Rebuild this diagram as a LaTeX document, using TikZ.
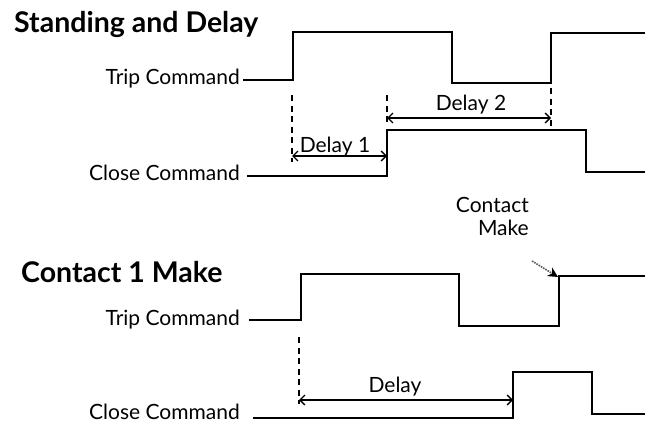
\documentclass[tikz,border=0pt]{standalone}
\usepackage{fontspec}
\setmainfont{Lato}
\usetikzlibrary{arrows.meta}

\begin{document}
\begin{tikzpicture}[
    x=1pt, y=-1pt,
    sig/.style={line width=1.6pt},
    guide/.style={line width=1.3pt, dash pattern=on 6pt off 4.5pt},
    span/.style={{Straight Barb[length=5pt, width=10pt]}-{Straight Barb[length=5pt, width=10pt]}, line width=1.3pt},
    lbl/.style={font=\fontsize{21}{23}\selectfont, inner sep=0pt},
    ttl/.style={font=\fontsize{28.5}{32}\selectfont\bfseries, anchor=base west, inner sep=0pt},
]
\useasboundingbox (0,0) rectangle (645,423);

% ---- Standing and Delay ----
\node[ttl] (sdTitle) at (14,32) {Standing and Delay};

\node[lbl, anchor=base east] (sdTrip) at (240,84) {Trip Command};
\node[lbl, anchor=base east] (sdClose) at (240,180) {Close Command};

% trip waveform
\coordinate (sdT0) at (243,80);
\coordinate (sdT1) at (293,80);
\coordinate (sdT2) at (452,32);
\coordinate (sdT3) at (551,83);
\draw[sig] (sdT0) -- (sdT1) |- (sdT2) |- (sdT3) |- (645,33);

% close waveform
\coordinate (sdC0) at (247,176);
\coordinate (sdC1) at (387,176);
\coordinate (sdC2) at (586,130);
\draw[sig] (sdC0) -- (sdC1) |- (sdC2) |- (645,172);

% guides
\draw[guide] (292,95) -- (292,162);
\draw[guide] (387,95) -- (387,126);
\draw[guide] (551,88) -- (551,126);

% delays
\coordinate (d1a) at (292,156);
\coordinate (d1b) at (387,156);
\draw[span] (d1a) -- (d1b);
\node[lbl, anchor=base] (d1Lbl) at (335,152) {Delay 1};

\coordinate (d2a) at (387,118);
\coordinate (d2b) at (551,118);
\draw[span] (d2a) -- (d2b);
\node[lbl, anchor=base] (d2Lbl) at (471,110) {Delay 2};

% ---- Contact 1 Make ----
\node[ttl] (cmTitle) at (21,282) {Contact 1 Make};

\node[lbl, anchor=base east] (cmTrip) at (240,325) {Trip Command};
\node[lbl, anchor=base east] (cmClose) at (240,419) {Close Command};

% trip waveform
\coordinate (cmT0) at (249,320);
\coordinate (cmT1) at (301,320);
\coordinate (cmT2) at (459,274);
\coordinate (cmT3) at (559,326);
\draw[sig] (cmT0) -- (cmT1) |- (cmT2) |- (cmT3) |- (645,276);

% close waveform
\coordinate (cmC0) at (253,418);
\coordinate (cmC1) at (513,418);
\coordinate (cmC2) at (592,372);
\draw[sig] (cmC0) -- (cmC1) |- (cmC2) |- (645,414);

\draw[guide] (299,337) -- (299,404);

\coordinate (dA) at (299,400);
\coordinate (dB) at (513,400);
\draw[span] (dA) -- (dB);
\node[lbl, anchor=base] (dLbl) at (395,392) {Delay};

% contact make pointer
\node[lbl, align=right, anchor=base east] (cmMake) at (529,235) {Contact\\Make};
\coordinate (cmHit) at (558,277);
\draw[line width=1.6pt, black!65, densely dotted, -{Stealth[black, length=10pt, width=10pt]}] (532,261) -- (cmHit);

\end{tikzpicture}
\end{document}
